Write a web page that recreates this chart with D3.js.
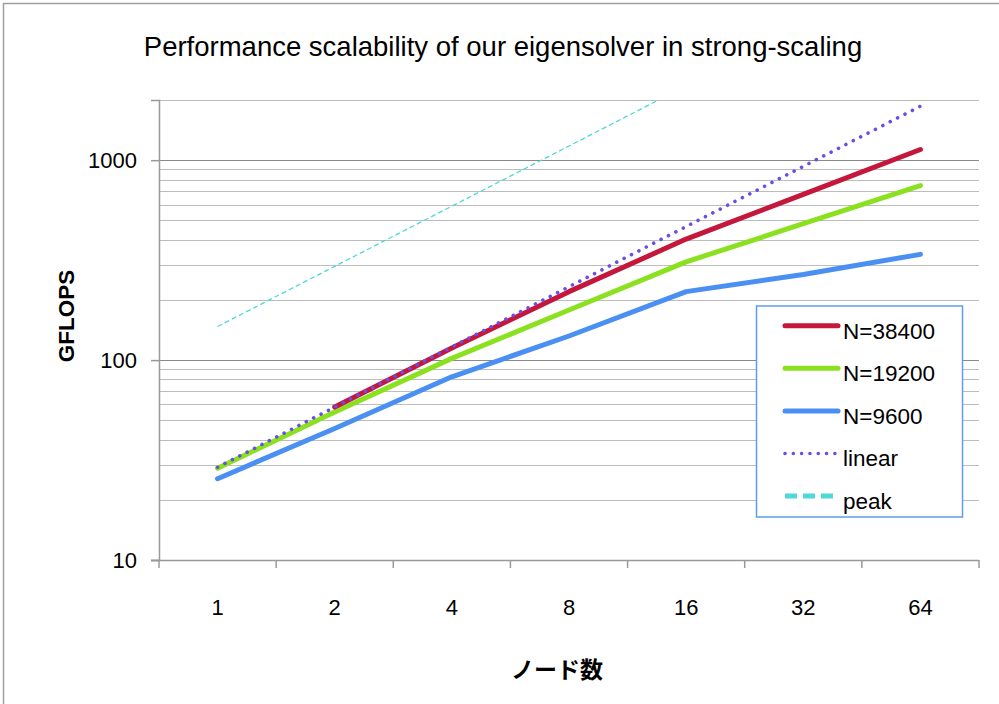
<!DOCTYPE html>
<html>
<head>
<meta charset="utf-8">
<script src="https://cdn.jsdelivr.net/npm/d3@7/dist/d3.min.js"></script>
<style>
  html, body { margin: 0; padding: 0; background: #fff; }
  svg { display: block; font-family: "Liberation Sans", Arial, sans-serif; }
</style>
</head>
<body>
<svg id="chart" width="999" height="704"></svg>
<script>
// ---- data ----
const nodes = ["1", "2", "4", "8", "16", "32", "64"];
const n38400 = [null, 58.2, 115, 220, 403, 675, 1131];
const n19200 = [28.8, 55, 102, 178, 310, 481, 747];
const n9600  = [25.5, 45.5, 82.5, 132, 220, 268, 338];
const linear = [29.1, 58.2, 116.4, 232.8, 465.6, 931.2, 1862.4];
const peak   = [147.2, 294.4, 588.8, 1177.6, 2355.2, 4710.4, 9420.8];
const yMajorTicks = [10, 100, 1000];
const seriesNames = ["N=38400", "N=19200", "N=9600", "linear", "peak"];
const titleText = "Performance scalability of our eigensolver in strong-scaling";
const yLabel = "GFLOPS";
const xLabel = "ノード数";

// ---- layout ----
const svg = d3.select("#chart");
const L = 159, R = 979, T = 100, B = 560;

const x = d3.scaleBand().domain(nodes).range([L, R]).padding(0);
const y = d3.scaleLog().domain([10, 2000]).range([B, T]);
const cx = d => x(d) + x.bandwidth() / 2;

// outer frame
svg.append("rect").attr("x", 3.5).attr("y", 3.5).attr("width", 1100).attr("height", 800)
  .attr("fill", "none").attr("stroke", "#a0a0a0").attr("stroke-width", 1.5);

// title
svg.append("text").attr("x", 503).attr("y", 56).attr("text-anchor", "middle")
  .attr("font-size", 27.5).attr("fill", "#000").text(titleText);

// minor gridlines
const minor = [];
[10, 100, 1000].forEach(dec => { for (let k = 2; k <= 9; k++) { const v = dec * k; if (v <= 2000) minor.push(v); } });
svg.append("g").selectAll("line").data(minor).join("line")
  .attr("x1", L).attr("x2", R).attr("y1", d => Math.round(y(d)) + 0.5).attr("y2", d => Math.round(y(d)) + 0.5)
  .attr("stroke", "#bdbdbd").attr("stroke-width", 1.2);
// major gridlines
svg.append("g").selectAll("line").data([100, 1000]).join("line")
  .attr("x1", L).attr("x2", R).attr("y1", d => Math.round(y(d)) + 0.5).attr("y2", d => Math.round(y(d)) + 0.5)
  .attr("stroke", "#8a8a8a").attr("stroke-width", 1.2);

// y axis
const yAxis = svg.append("g").attr("transform", `translate(${L},0)`)
  .call(d3.axisLeft(y).tickValues(yMajorTicks).tickFormat(d3.format("d")).tickSize(8).tickPadding(14));
yAxis.select(".domain").attr("stroke", "#999").attr("stroke-width", 1.5);
yAxis.selectAll(".tick line").attr("stroke", "#999").attr("stroke-width", 1.5);
yAxis.selectAll(".tick text").attr("font-size", 22).attr("fill", "#000")
  .attr("font-family", "'Liberation Sans', Arial, sans-serif");

// x axis
const xAxis = svg.append("g").attr("transform", `translate(0,${B})`)
  .call(d3.axisBottom(x).tickSize(0).tickPadding(0));
xAxis.select(".domain").remove();
xAxis.selectAll(".tick text").attr("font-size", 22).attr("fill", "#000")
  .attr("y", 47).attr("dy", "0.35em")
  .attr("font-family", "'Liberation Sans', Arial, sans-serif");
svg.append("line").attr("x1", L - 8).attr("x2", R).attr("y1", B + 0.5).attr("y2", B + 0.5)
  .attr("stroke", "#999").attr("stroke-width", 1.5);
const bounds = nodes.map(d => x(d)).concat([x.range()[1]]);
svg.append("g").selectAll("line").data(bounds).join("line")
  .attr("x1", d => d).attr("x2", d => d).attr("y1", B).attr("y2", B + 8)
  .attr("stroke", "#999").attr("stroke-width", 1.5);

// axis labels
svg.append("text").attr("transform", "translate(74,316) rotate(-90)").attr("text-anchor", "middle")
  .attr("font-size", 22.5).attr("font-weight", "bold").attr("fill", "#000").text(yLabel);
svg.append("text").attr("x", 557).attr("y", 678).attr("text-anchor", "middle")
  .attr("font-family", "'Noto Sans CJK JP', sans-serif")
  .attr("font-size", 23).attr("font-weight", "bold").attr("fill", "#000").text(xLabel);

// clip
svg.append("clipPath").attr("id", "plotclip").append("rect")
  .attr("x", L).attr("y", T).attr("width", R - L).attr("height", B - T);

const series = [
  { name: seriesNames[0], vals: n38400, color: "#c4173b", width: 5, dash: null, cap: "round" },
  { name: seriesNames[1], vals: n19200, color: "#8be11f", width: 5, dash: null, cap: "round" },
  { name: seriesNames[2], vals: n9600,  color: "#4a8ff2", width: 5, dash: null, cap: "round" },
  { name: seriesNames[3], vals: linear, color: "#6a4de8", width: 3.6, dash: "0.01 8.3", cap: "round" },
  { name: seriesNames[4], vals: peak,   color: "#4fd8d8", width: 1.3, dash: "5 3", cap: "butt" }
];

const line = d3.line().defined(d => d.v != null).x(d => cx(d.n)).y(d => y(d.v));
const plotG = svg.append("g").attr("clip-path", "url(#plotclip)");
// draw in order: peak, blue, green, red, linear on top
[4, 2, 1, 0, 3].forEach(i => {
  const s = series[i];
  plotG.append("path")
    .datum(nodes.map((n, j) => ({ n: n, v: s.vals[j] })))
    .attr("d", line)
    .attr("fill", "none").attr("stroke", s.color).attr("stroke-width", s.width)
    .attr("stroke-linecap", s.cap).attr("stroke-linejoin", "round")
    .attr("stroke-dasharray", s.dash);
});

// legend
const lg = svg.append("g");
lg.append("rect").attr("x", 756.5).attr("y", 306).attr("width", 206).attr("height", 211)
  .attr("fill", "#fff").attr("stroke", "#5e9cf0").attr("stroke-width", 1.5);
const legendDash = [null, null, null, "0.01 8.3", "12 6"];
const legendWidth = [5, 5, 5, 3.6, 5];
series.forEach((s, i) => {
  const ry = 325.7 + i * 42.6;
  lg.append("line").attr("x1", 785).attr("x2", 838).attr("y1", ry).attr("y2", ry)
    .attr("stroke", s.color).attr("stroke-width", legendWidth[i])
    .attr("stroke-linecap", i === 4 ? "butt" : "round")
    .attr("stroke-dasharray", legendDash[i]);
  lg.append("text").attr("x", 843).attr("y", ry + 5).attr("dy", "0.35em")
    .attr("font-size", 22.5).attr("fill", "#000").text(s.name);
});
</script>
</body>
</html>
